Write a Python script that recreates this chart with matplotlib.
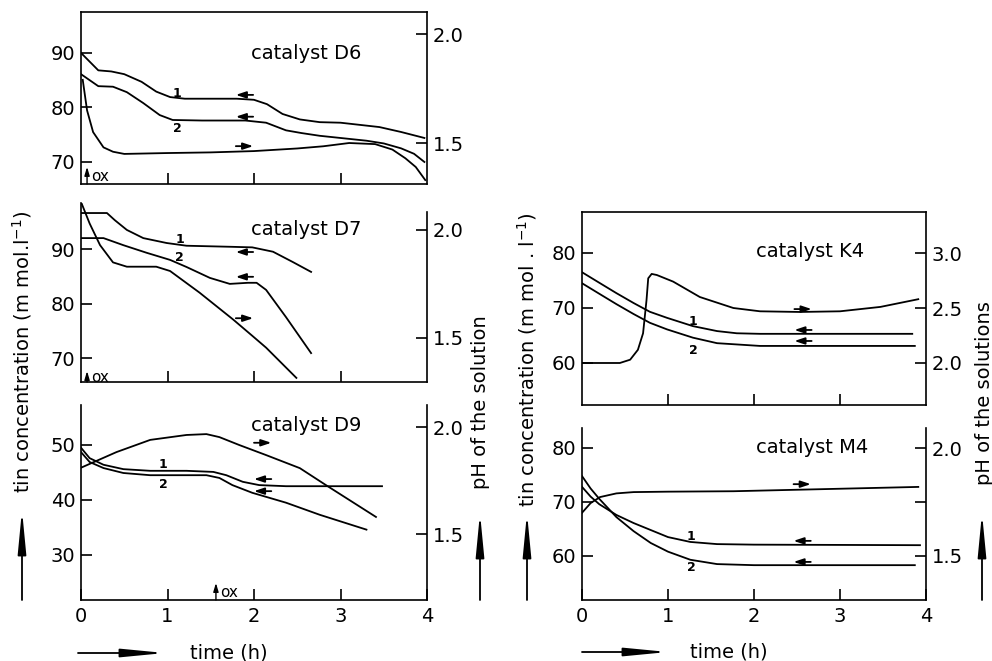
import matplotlib
matplotlib.use("Agg")
import matplotlib.pyplot as plt
from matplotlib.patches import FancyArrowPatch

plt.rcParams['font.family'] = ['DejaVu Sans']
plt.rcParams['axes.linewidth'] = 1.2

# ---------------- data ----------------
# catalyst D6
d6_t_sn1 = [0, 0.2, 0.35, 0.5, 0.7, 0.87, 1.03, 1.2, 1.5, 1.8, 2.0, 2.15, 2.33, 2.53, 2.76, 3.0, 3.45, 3.7, 3.97]
d6_sn1 = [90.0, 86.8, 86.6, 86.1, 84.7, 82.9, 81.9, 81.6, 81.6, 81.6, 81.4, 80.6, 78.8, 77.8, 77.3, 77.2, 76.4, 75.5, 74.4]
d6_t_sn2 = [0, 0.2, 0.37, 0.53, 0.72, 0.91, 1.06, 1.4, 1.9, 2.14, 2.37, 2.55, 2.76, 3.0, 3.3, 3.5, 3.7, 3.85, 3.97]
d6_sn2 = [86.1, 83.9, 83.8, 82.8, 80.8, 78.6, 77.7, 77.6, 77.6, 77.2, 75.8, 75.3, 74.8, 74.4, 73.9, 73.4, 72.5, 71.5, 70.0]
d6_t_ph = [0.02, 0.07, 0.14, 0.26, 0.37, 0.5, 1.0, 1.5, 2.0, 2.5, 2.8, 3.1, 3.4, 3.6, 3.75, 3.87, 3.98]
d6_ph = [1.79, 1.65, 1.55, 1.48, 1.46, 1.45, 1.454, 1.457, 1.463, 1.475, 1.485, 1.50, 1.495, 1.47, 1.43, 1.39, 1.33]

# catalyst D7
d7_t_sn1 = [0, 0.3, 0.39, 0.53, 0.72, 0.99, 1.22, 1.75, 1.98, 2.22, 2.45, 2.66]
d7_sn1 = [96.6, 96.6, 95.3, 93.5, 92.0, 91.1, 90.6, 90.4, 90.3, 89.5, 87.6, 85.8]
d7_t_sn2 = [0, 0.26, 0.49, 0.76, 1.03, 1.22, 1.49, 1.72, 1.93, 2.03, 2.14, 2.37, 2.66]
d7_sn2 = [92.0, 92.0, 90.7, 89.3, 88.0, 86.7, 84.7, 83.6, 83.8, 83.8, 82.5, 77.5, 70.9]
d7_t_ph = [0, 0.1, 0.22, 0.37, 0.53, 0.87, 1.03, 1.37, 1.76, 1.98, 2.14, 2.49]
d7_ph = [2.13, 2.03, 1.93, 1.85, 1.83, 1.83, 1.81, 1.71, 1.585, 1.51, 1.455, 1.315]

# catalyst D9
d9_t_sn1 = [0, 0.1, 0.26, 0.49, 0.8, 1.22, 1.53, 1.68, 1.87, 2.06, 2.37, 3.48]
d9_sn1 = [49.5, 47.6, 46.4, 45.6, 45.3, 45.3, 45.1, 44.5, 43.3, 42.7, 42.5, 42.5]
d9_t_sn2 = [0, 0.1, 0.26, 0.49, 0.8, 1.45, 1.6, 1.75, 1.98, 2.37, 2.76, 3.3]
d9_sn2 = [48.7, 46.9, 45.8, 44.9, 44.5, 44.5, 44.0, 42.7, 41.3, 39.5, 37.3, 34.6]
d9_t_ph = [0, 0.41, 0.8, 1.22, 1.45, 1.6, 1.83, 2.14, 2.53, 2.85, 3.41]
d9_ph = [1.81, 1.883, 1.94, 1.963, 1.967, 1.953, 1.916, 1.869, 1.808, 1.724, 1.58]

# catalyst K4
k4_t_sn1 = [0, 0.21, 0.4, 0.6, 0.79, 0.99, 1.29, 1.57, 1.8, 2.07, 3.84]
k4_sn1 = [76.5, 74.5, 72.7, 70.9, 69.3, 68.2, 66.7, 65.8, 65.4, 65.3, 65.3]
k4_t_sn2 = [0, 0.21, 0.4, 0.6, 0.79, 0.99, 1.29, 1.57, 2.07, 3.87]
k4_sn2 = [74.5, 72.5, 70.7, 68.9, 67.3, 66.1, 64.6, 63.6, 63.1, 63.1]
k4_t_ph = [0, 0.44, 0.56, 0.65, 0.71, 0.75, 0.77, 0.81, 0.87, 1.06, 1.37, 1.76, 2.07, 2.53, 3.0, 3.47, 3.91]
k4_ph = [2.0, 2.0, 2.03, 2.12, 2.27, 2.57, 2.77, 2.81, 2.80, 2.74, 2.60, 2.50, 2.47, 2.464, 2.47, 2.51, 2.58]

# catalyst M4
m4_t_sn1 = [0, 0.1, 0.2, 0.4, 0.6, 0.8, 1.0, 1.26, 1.57, 2.0, 3.93]
m4_sn1 = [72.8, 71.0, 69.6, 67.6, 66.1, 64.8, 63.5, 62.6, 62.2, 62.1, 62.0]
m4_t_sn2 = [0, 0.1, 0.2, 0.4, 0.6, 0.8, 1.0, 1.26, 1.57, 2.0, 3.87]
m4_sn2 = [74.8, 72.5, 70.6, 67.2, 64.6, 62.4, 60.8, 59.3, 58.5, 58.3, 58.3]
m4_t_ph = [0, 0.1, 0.21, 0.4, 0.6, 1.0, 1.76, 3.91]
m4_ph = [1.70, 1.745, 1.773, 1.79, 1.796, 1.798, 1.80, 1.82]

time_ticks = [0, 1, 2, 3, 4]
time_labels = ['0', '1', '2', '3', '4']

# ---------------- layout ----------------
W, H = 992, 661
fig = plt.figure(figsize=(W / 100, H / 100), dpi=100)
fig.patch.set_facecolor('white')


def box(x0, x1, ytop, ybot):
    return [x0 / W, 1 - ybot / H, (x1 - x0) / W, (ybot - ytop) / H]


LW = 1.3
TFS = 14


def panel(rect, tin_lim, tin_ticks, ph_lim, ph_ticks, ph_labels, top, bottom_labels):
    ax = fig.add_axes(rect)
    ax.set_xlim(0, 4)
    ax.set_ylim(*tin_lim)
    ax.set_yticks(tin_ticks)
    ax2 = ax.twinx()
    ax2.set_ylim(*ph_lim)
    ax2.set_yticks(ph_ticks)
    ax2.set_yticklabels(ph_labels)
    if bottom_labels:
        ax.set_xticks(time_ticks)
        ax.set_xticklabels(time_labels)
    else:
        ax.set_xticks(time_ticks[1:4])
        ax.set_xticklabels([])
    for a in (ax, ax2):
        a.tick_params(direction='in', length=8, width=1.2, labelsize=TFS)
    ax.tick_params(axis='y', pad=4)
    ax.tick_params(axis='x', pad=5)
    ax2.tick_params(axis='y', pad=4)
    ax.spines['right'].set_visible(False)
    for s in ('left', 'bottom', 'top'):
        ax2.spines[s].set_visible(False)
    ax.spines['top'].set_visible(top)
    return ax, ax2


def small_arrow(ax, xc, y, direction, half=0.1):
    if direction > 0:
        tail, head = xc - half, xc + half
    else:
        tail, head = xc + half, xc - half
    ax.annotate('', xy=(head, y), xytext=(tail, y),
                arrowprops=dict(arrowstyle='-|>,head_length=0.6,head_width=0.2',
                                lw=1.3, color='k', shrinkA=0, shrinkB=0,
                                mutation_scale=10))


def ox_mark(ax, x, ytop):
    y0 = ax.get_ylim()[0]
    ax.annotate('', xy=(x, ytop), xytext=(x, y0),
                arrowprops=dict(arrowstyle='-|>,head_length=0.5,head_width=0.15',
                                lw=1.0, color='k', shrinkA=0, shrinkB=0,
                                mutation_scale=10))
    ax.text(x + 0.05, y0 + (ytop - y0) * 0.45, 'ox', fontsize=11, ha='left', va='center')


def curve_labels(ax, x, y1, y2):
    ax.text(x, y1, '1', fontsize=9, fontweight='bold', ha='center', va='center')
    ax.text(x, y2, '2', fontsize=9, fontweight='bold', ha='center', va='center')


# D6
ax, ax2 = panel(box(81, 427, 12, 184), (65.96, 97.5), [70, 80, 90],
                (1.312, 2.101), [1.5, 2.0], ['1.5', '2.0'], True, False)
ax.plot(d6_t_sn1, d6_sn1, color='k', lw=LW)
ax.plot(d6_t_sn2, d6_sn2, color='k', lw=LW)
ax2.plot(d6_t_ph, d6_ph, color='k', lw=LW)
small_arrow(ax, 1.89, 82.3, -1)
small_arrow(ax, 1.89, 78.3, -1)
small_arrow(ax, 1.89, 72.9, +1)
curve_labels(ax, 1.11, 82.6, 76.2)
ax.text(1.97, 89.8, 'catalyst D6', fontsize=TFS, ha='left', va='center')
ox_mark(ax, 0.07, 69.1)

# D7
ax, ax2 = panel(box(81, 427, 203, 382), (65.6, 98.44), [70, 80, 90],
                (1.296, 2.125), [1.5, 2.0], ['1.5', '2.0'], False, False)
ax2.spines['right'].set_bounds(1.296, 2.083)
ax.plot(d7_t_sn1, d7_sn1, color='k', lw=LW)
ax.plot(d7_t_sn2, d7_sn2, color='k', lw=LW)
ax2.plot(d7_t_ph, d7_ph, color='k', lw=LW)
small_arrow(ax, 1.89, 89.45, -1)
small_arrow(ax, 1.89, 84.9, -1)
small_arrow(ax, 1.89, 77.3, +1)
curve_labels(ax, 1.14, 91.7, 88.5)
ax.text(1.97, 93.5, 'catalyst D7', fontsize=TFS, ha='left', va='center')
ox_mark(ax, 0.07, 67.6)

# D9
ax, ax2 = panel(box(81, 427, 405, 600), (21.8, 57.27), [30, 40, 50],
                (1.192, 2.103), [1.5, 2.0], ['1.5', '2.0'], False, True)
ax.plot(d9_t_sn1, d9_sn1, color='k', lw=LW)
ax.plot(d9_t_sn2, d9_sn2, color='k', lw=LW)
ax2.plot(d9_t_ph, d9_ph, color='k', lw=LW)
small_arrow(ax, 2.1, 50.4, +1)
small_arrow(ax, 2.1, 43.8, -1)
small_arrow(ax, 2.1, 41.6, -1)
curve_labels(ax, 0.95, 46.5, 42.9)
ax.text(1.97, 53.6, 'catalyst D9', fontsize=TFS, ha='left', va='center')
ox_mark(ax, 1.56, 24.9)

# K4
ax, ax2 = panel(box(582, 926, 212, 405), (52.36, 87.45), [60, 70, 80],
                (1.618, 3.373), [2.0, 2.5, 3.0], ['2.0', '2.5', '3.0'], True, False)
ax.plot(k4_t_sn1, k4_sn1, color='k', lw=LW)
ax.plot(k4_t_sn2, k4_sn2, color='k', lw=LW)
ax2.plot(k4_t_ph, k4_ph, color='k', lw=LW)
small_arrow(ax, 2.57, 69.8, +1)
small_arrow(ax, 2.57, 66.0, -1)
small_arrow(ax, 2.57, 64.0, -1)
curve_labels(ax, 1.29, 67.6, 62.3)
ax.text(2.02, 80.2, 'catalyst K4', fontsize=TFS, ha='left', va='center')

# M4
ax, ax2 = panel(box(582, 926, 428, 600), (51.85, 83.7), [60, 70, 80],
                (1.296, 2.093), [1.5, 1.75, 2.0], ['1.5', '', '2.0'], False, True)
ax.plot(m4_t_sn1, m4_sn1, color='k', lw=LW)
ax.plot(m4_t_sn2, m4_sn2, color='k', lw=LW)
ax2.plot(m4_t_ph, m4_ph, color='k', lw=LW)
small_arrow(ax, 2.56, 73.3, +1)
small_arrow(ax, 2.56, 62.8, -1)
small_arrow(ax, 2.56, 58.9, -1)
curve_labels(ax, 1.27, 63.6, 57.8)
ax.text(2.02, 80.0, 'catalyst M4', fontsize=TFS, ha='left', va='center')


# ---------------- outer labels and arrows ----------------
def ftext(x, y, s, rot=0):
    fig.text(x / W, 1 - y / H, s, rotation=rot, ha='center', va='center', fontsize=TFS)


def big_arrow(x0, y0, x1, y1):
    fig.add_artist(FancyArrowPatch((x0 / W, 1 - y0 / H), (x1 / W, 1 - y1 / H),
                                   transform=fig.transFigure,
                                   arrowstyle='-|>,head_length=2.6,head_width=0.25',
                                   mutation_scale=10, lw=1.3, color='k',
                                   shrinkA=0, shrinkB=0))


ftext(22, 352, 'tin concentration (m mol.l$^{-1}$)', 90)
big_arrow(22, 600, 22, 510)
ftext(480, 402, 'pH of the solution', 90)
big_arrow(480, 600, 480, 513)
ftext(527, 360, 'tin concentration (m mol . l$^{-1}$)', 90)
big_arrow(527, 600, 527, 513)
ftext(984, 393, 'pH of the solutions', 90)
big_arrow(982, 600, 982, 513)
ftext(229, 653, 'time (h)')
big_arrow(78, 653, 165, 653)
ftext(729, 652, 'time (h)')
big_arrow(582, 652, 668, 652)

fig.savefig('out.png', dpi=100, facecolor='white')
